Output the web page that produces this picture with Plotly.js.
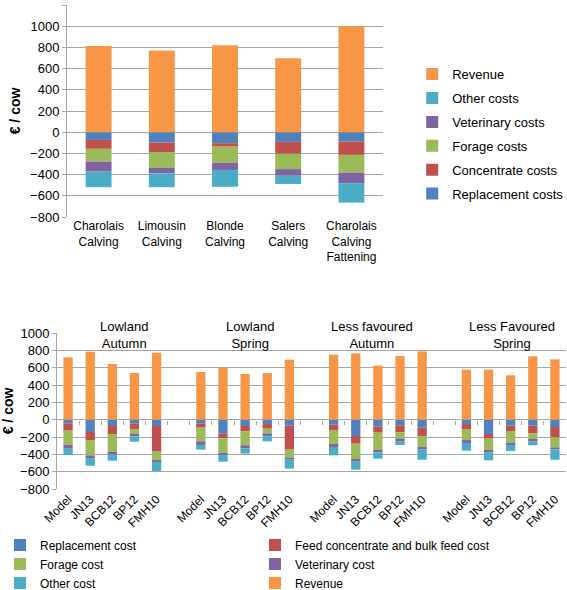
<!DOCTYPE html>
<html>
<head>
<meta charset="utf-8">
<script src="https://cdn.plot.ly/plotly-3.0.1.min.js"></script>
<style>
  html, body { margin: 0; padding: 0; background: #fff; }
  #top { position: absolute; left: 0; top: 0; width: 567px; height: 275px; }
  #bottom { position: absolute; left: 0; top: 300px; width: 567px; height: 290px; }
</style>
</head>
<body>
<div id="top"></div>
<div id="bottom"></div>
<script>
// ---------- Top chart data ----------
const breedCategories = ['Charolais<br>Calving', 'Limousin<br>Calving', 'Blonde<br>Calving', 'Salers<br>Calving', 'Charolais<br>Calving<br>Fattening'];
const topReplacement = [-73, -98, -104, -91, -89];
const topConcentrate = [-84, -89, -32, -112, -125];
const topForage      = [-120, -150, -151, -145, -167];
const topVeterinary  = [-95, -51, -69, -63, -100];
const topOther       = [-147, -131, -159, -77, -183];
const topRevenue     = [814, 770, 821, 698, 1003];

// ---------- Bottom chart data ----------
const farmGroups = ['Lowland<br>Autumn', 'Lowland<br>Spring', 'Less favoured<br>Autumn', 'Less Favoured<br>Spring'];
const systems = ['Model', 'JN13', 'BCB12', 'BP12', 'FMH10'];
const botReplacement = [-42, -142, -73, -46, -73,   -46, -162, -73, -50, -69,   -58, -188, -81, -65, -92,   -50, -165, -69, -69, -85];
const botFeed        = [-85, -93, -92, -62, -296,   -46, -53, -62, -54, -277,   -61, -89, -69, -81, -96,    -58, -54, -62, -89, -119];
const botForage      = [-165, -177, -204, -54, -96, -158, -166, -161, -54, -92, -162, -177, -196, -73, -127, -127, -131, -134, -65, -115];
const botVeterinary  = [-43, -38, -31, -30, -23,    -42, -27, -35, -34, -24,    -34, -31, -31, -35, -31,    -34, -31, -27, -31, -23];
const botOther       = [-73, -81, -73, -62, -104,   -54, -77, -61, -58, -103,   -97, -92, -73, -38, -116,   -89, -88, -70, -42, -120];
const botRevenue     = [719, 785, 642, 538, 773,    550, 600, 527, 538, 692,    750, 765, 623, 735, 788,    577, 577, 512, 731, 696];

const colors = {
  replacement: '#4F81BD',
  concentrate: '#C0504D',
  forage: '#9BBB59',
  veterinary: '#8064A2',
  other: '#4BACC6',
  revenue: '#F79646'
};
const FONT = 'Liberation Sans, Arial, sans-serif';
const GRID = '#A6A6A6';

// ---------- Top chart ----------
function topBar(name, y, color, rank) {
  return {type: 'bar', name: name, x: breedCategories, y: y,
          marker: {color: color, line: {width: 0}},
          legendgroup: name, legendrank: rank, hoverinfo: 'y+name'};
}
const topTraces = [
  topBar('Replacement costs', topReplacement, colors.replacement, 6),
  topBar('Concentrate costs', topConcentrate, colors.concentrate, 5),
  topBar('Forage costs', topForage, colors.forage, 4),
  topBar('Veterinary costs', topVeterinary, colors.veterinary, 3),
  topBar('Other costs', topOther, colors.other, 2),
  topBar('Revenue', topRevenue, colors.revenue, 1)
];
const topLayout = {
  width: 567, height: 275,
  margin: {l: 67, r: 184, t: 5, b: 58},
  barmode: 'relative',
  bargap: 0.59,
  paper_bgcolor: '#fff', plot_bgcolor: '#fff',
  font: {family: FONT, size: 13, color: '#000'},
  showlegend: true,
  legend: {
    xref: 'container', yref: 'container',
    x: 0.727, y: 0.785, xanchor: 'left', yanchor: 'top',
    traceorder: 'grouped', tracegroupgap: 4,
    maxheight: 400,
    font: {family: FONT, size: 13, color: '#000'},
    bgcolor: 'rgba(0,0,0,0)'
  },
  xaxis: {
    type: 'category',
    showgrid: false, zeroline: false, showline: false, ticks: '',
    tickfont: {family: FONT, size: 12, color: '#000'}
  },
  yaxis: {
    range: [-800, 1200], dtick: 200,
    showgrid: true, gridcolor: GRID, gridwidth: 1,
    zeroline: true, zerolinecolor: GRID, zerolinewidth: 1,
    showline: true, linecolor: GRID, linewidth: 1,
    ticks: 'outside', ticklen: 4, tickcolor: GRID,
    tickfont: {family: FONT, size: 13, color: '#000'},
    title: {text: '<b>€ / cow</b>', standoff: 6, font: {family: FONT, size: 14, color: '#000'}}
  }
};
Plotly.newPlot('top', topTraces, topLayout, {displayModeBar: false, staticPlot: true});

// ---------- Bottom chart ----------
const slotsPerGroup = systems.length + 1;
const botX = [];
const botTickVals = [];
const botTickText = [];
farmGroups.forEach((g, gi) => {
  systems.forEach((s, si) => {
    botX.push(gi * slotsPerGroup + si);
    botTickVals.push(gi * slotsPerGroup + si);
    botTickText.push(s);
  });
});
const nSlots = farmGroups.length * slotsPerGroup - 1;
const boundaryTicks = [];
for (let k = 1; k < nSlots; k++) boundaryTicks.push(k - 0.5);

function botBar(name, y, color) {
  return {type: 'bar', name: name, x: botX, y: y,
          marker: {color: color, line: {width: 0}}, hoverinfo: 'y+name'};
}
const yMin = -800, yMax = 1000;
const botTraces = [
  botBar('Replacement cost', botReplacement, colors.replacement),
  botBar('Feed concentrate and bulk feed cost', botFeed, colors.concentrate),
  botBar('Forage cost', botForage, colors.forage),
  botBar('Veterinary cost', botVeterinary, colors.veterinary),
  botBar('Other cost', botOther, colors.other),
  botBar('Revenue', botRevenue, colors.revenue),
  {type: 'scatter', x: [], y: [], xaxis: 'x2', yaxis: 'y', showlegend: false, hoverinfo: 'skip'}
];
const groupLabelX = [2.53, 8.2, 13.75, 20.05];
const botLayout = {
  width: 567, height: 290,
  margin: {l: 57, r: 1, t: 33, b: 101},
  barmode: 'relative',
  bargap: 0.58,
  paper_bgcolor: '#fff', plot_bgcolor: '#fff',
  font: {family: FONT, size: 13, color: '#000'},
  showlegend: true,
  legend: {
    xref: 'container', yref: 'container',
    x: 0, y: 0.205, xanchor: 'left', yanchor: 'top',
    orientation: 'h', entrywidth: 210, entrywidthmode: 'pixels',
    traceorder: 'normal',
    font: {family: FONT, size: 12, color: '#000'},
    bgcolor: 'rgba(0,0,0,0)'
  },
  xaxis: {
    range: [-0.5, nSlots - 0.5],
    tickvals: botTickVals, ticktext: botTickText,
    tickangle: -45,
    showgrid: false, zeroline: false, showline: false, ticks: '',
    tickfont: {family: FONT, size: 12, color: '#000'}
  },
  xaxis2: {
    overlaying: 'x', anchor: 'free', side: 'bottom',
    position: (0 - yMin) / (yMax - yMin),
    range: [-0.5, nSlots - 0.5],
    tickvals: boundaryTicks, showticklabels: false,
    ticks: 'outside', ticklen: 4, tickcolor: GRID,
    showgrid: false, zeroline: false, showline: false
  },
  yaxis: {
    range: [yMin, yMax], dtick: 200,
    showgrid: true, gridcolor: GRID, gridwidth: 1,
    zeroline: true, zerolinecolor: GRID, zerolinewidth: 1,
    showline: true, linecolor: GRID, linewidth: 1,
    ticks: 'outside', ticklen: 4, tickcolor: GRID,
    tickfont: {family: FONT, size: 13, color: '#000'},
    title: {text: '<b>€ / cow</b>', standoff: 4, font: {family: FONT, size: 14, color: '#000'}}
  },
  annotations: farmGroups.map((g, i) => ({
    text: g, x: groupLabelX[i], xref: 'x', y: 0.99, yref: 'paper',
    xanchor: 'center', yanchor: 'middle', showarrow: false,
    font: {family: FONT, size: 13, color: '#000'}
  }))
};
Plotly.newPlot('bottom', botTraces, botLayout, {displayModeBar: false, staticPlot: true});
</script>
</body>
</html>
